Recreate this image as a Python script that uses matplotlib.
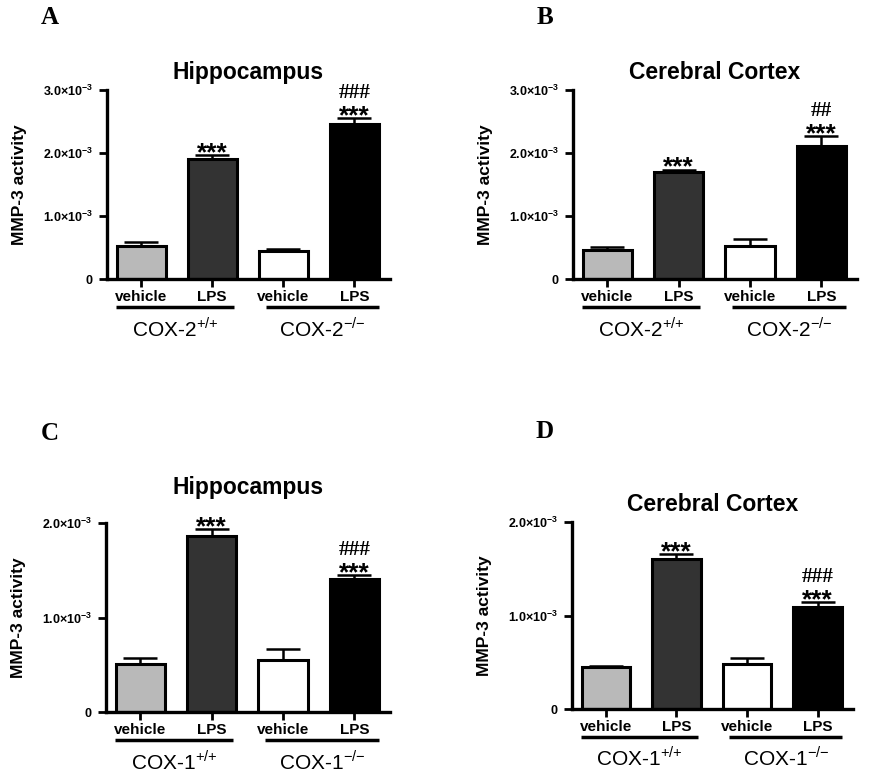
import numpy as np
import matplotlib
matplotlib.use("Agg")
import matplotlib.pyplot as plt
from matplotlib.ticker import FuncFormatter

plt.rcParams['font.family'] = ['Liberation Sans', 'DejaVu Sans']
plt.rcParams['mathtext.fontset'] = 'custom'
plt.rcParams['mathtext.rm'] = 'Liberation Sans'
plt.rcParams['mathtext.bf'] = 'Liberation Sans:bold'
plt.rcParams['axes.unicode_minus'] = False

# Данные (×1e-3)
treatments = ['vehicle', 'LPS', 'vehicle', 'LPS']
bar_colors = ['#b9b9b9', '#333333', '#ffffff', '#000000']

a_vals = [0.52, 1.90, 0.45, 2.46]
a_errs = [0.065, 0.065, 0.025, 0.09]
b_vals = [0.465, 1.70, 0.53, 2.11]
b_errs = [0.04, 0.035, 0.105, 0.16]
c_vals = [0.51, 1.86, 0.547, 1.407]
c_errs = [0.06, 0.075, 0.117, 0.04]
d_vals = [0.446, 1.604, 0.485, 1.09]
d_errs = [0.012, 0.054, 0.057, 0.05]

a_stars = ['', '***', '', '***']
a_hash = ['', '', '', '###']
b_stars = ['', '***', '', '***']
b_hash = ['', '', '', '##']
c_stars = ['', '***', '', '***']
c_hash = ['', '', '', '###']
d_stars = ['', '***', '', '***']
d_hash = ['', '', '', '###']

groups_cox2 = ['COX-2$^{{+}/{+}}$', 'COX-2$^{{-}/{-}}$']
groups_cox1 = ['COX-1$^{{+}/{+}}$', 'COX-1$^{{-}/{-}}$']

fig = plt.figure(figsize=(8.7, 7.77), dpi=100)
W, H = 870, 777


def add_ax(left, right, top, bottom):
    return fig.add_axes([left / W, 1 - bottom / H, (right - left) / W, (bottom - top) / H])


def yfmt(v, pos):
    if abs(v) < 1e-12:
        return r'$\mathbf{0}$'
    return r'$\mathbf{%.1f{\times}10^{-3}}$' % (v * 1e3)


def panel(ax, vals, errs, stars, hashes, ymax, title, groups, tpad=8):
    vals = np.array(vals) * 1e-3
    errs = np.array(errs) * 1e-3
    x = np.arange(len(vals))
    ax.bar(x, vals, width=0.69, color=bar_colors, edgecolor='black', linewidth=2.2, zorder=2)
    ax.errorbar(x, vals, yerr=[np.zeros_like(errs), errs], fmt='none', ecolor='black',
                elinewidth=1.8, capsize=12, capthick=1.8, zorder=1)
    ax.set_xlim(-0.48, 3.5)
    ax.set_ylim(0, ymax)
    ax.set_yticks(np.arange(0, ymax + 1e-9, 1e-3))
    ax.yaxis.set_major_formatter(FuncFormatter(yfmt))
    ax.set_xticks(x)
    ax.set_xticklabels(treatments, fontweight='bold')
    for sp in ['top', 'right']:
        ax.spines[sp].set_visible(False)
    for sp in ['left', 'bottom']:
        ax.spines[sp].set_linewidth(2.4)
    ax.tick_params(axis='both', direction='out', length=6, width=2, labelsize=9)
    ax.tick_params(axis='x', pad=2, labelsize=11)
    ax.set_ylabel('MMP-3 activity', fontweight='bold', fontsize=12.5, labelpad=12)
    ax.set_title(title, fontweight='bold', fontsize=16.5, pad=tpad)
    for xi, v, e, s, h in zip(x, vals, errs, stars, hashes):
        if s:
            ax.annotate(s, (xi, v + e), xytext=(0, -3.5), textcoords='offset points',
                        ha='center', va='baseline', fontsize=19, fontweight='bold')
        if h:
            ax.annotate(h, (xi, v + e), xytext=(0, 14.5), textcoords='offset points',
                        ha='center', va='baseline', fontsize=15.5, fontweight='bold',
                        family='Liberation Serif')
    # линии групп и подписи генотипов
    for (x0, x1), g in zip([(-0.35, 1.3), (1.75, 3.35)], groups):
        ax.plot([x0, x1], [-0.15, -0.15], transform=ax.get_xaxis_transform(),
                color='black', linewidth=2.5, clip_on=False, solid_capstyle='butt')
        ax.text((x0 + x1) / 2, -0.26, g, transform=ax.get_xaxis_transform(),
                ha='center', va='center', fontsize=15)


axA = add_ax(107, 390, 90, 279)
panel(axA, a_vals, a_errs, a_stars, a_hash, 3e-3, 'Hippocampus', groups_cox2)
axB = add_ax(573, 857, 90, 279)
panel(axB, b_vals, b_errs, b_stars, b_hash, 3e-3, 'Cerebral Cortex', groups_cox2)
axC = add_ax(106, 390, 523, 712)
panel(axC, c_vals, c_errs, c_stars, c_hash, 2e-3, 'Hippocampus', groups_cox1, tpad=21)
axD = add_ax(572, 853, 522, 709)
panel(axD, d_vals, d_errs, d_stars, d_hash, 2e-3, 'Cerebral Cortex', groups_cox1)

# буквы панелей
for lbl, px, py in [('A', 50, 17), ('B', 545, 17), ('C', 50, 433), ('D', 545, 432)]:
    fig.text(px / W, 1 - py / H, lbl, fontsize=18, fontweight='bold',
             family='Liberation Serif', ha='center', va='center')

fig.savefig('out.png', dpi=100)
